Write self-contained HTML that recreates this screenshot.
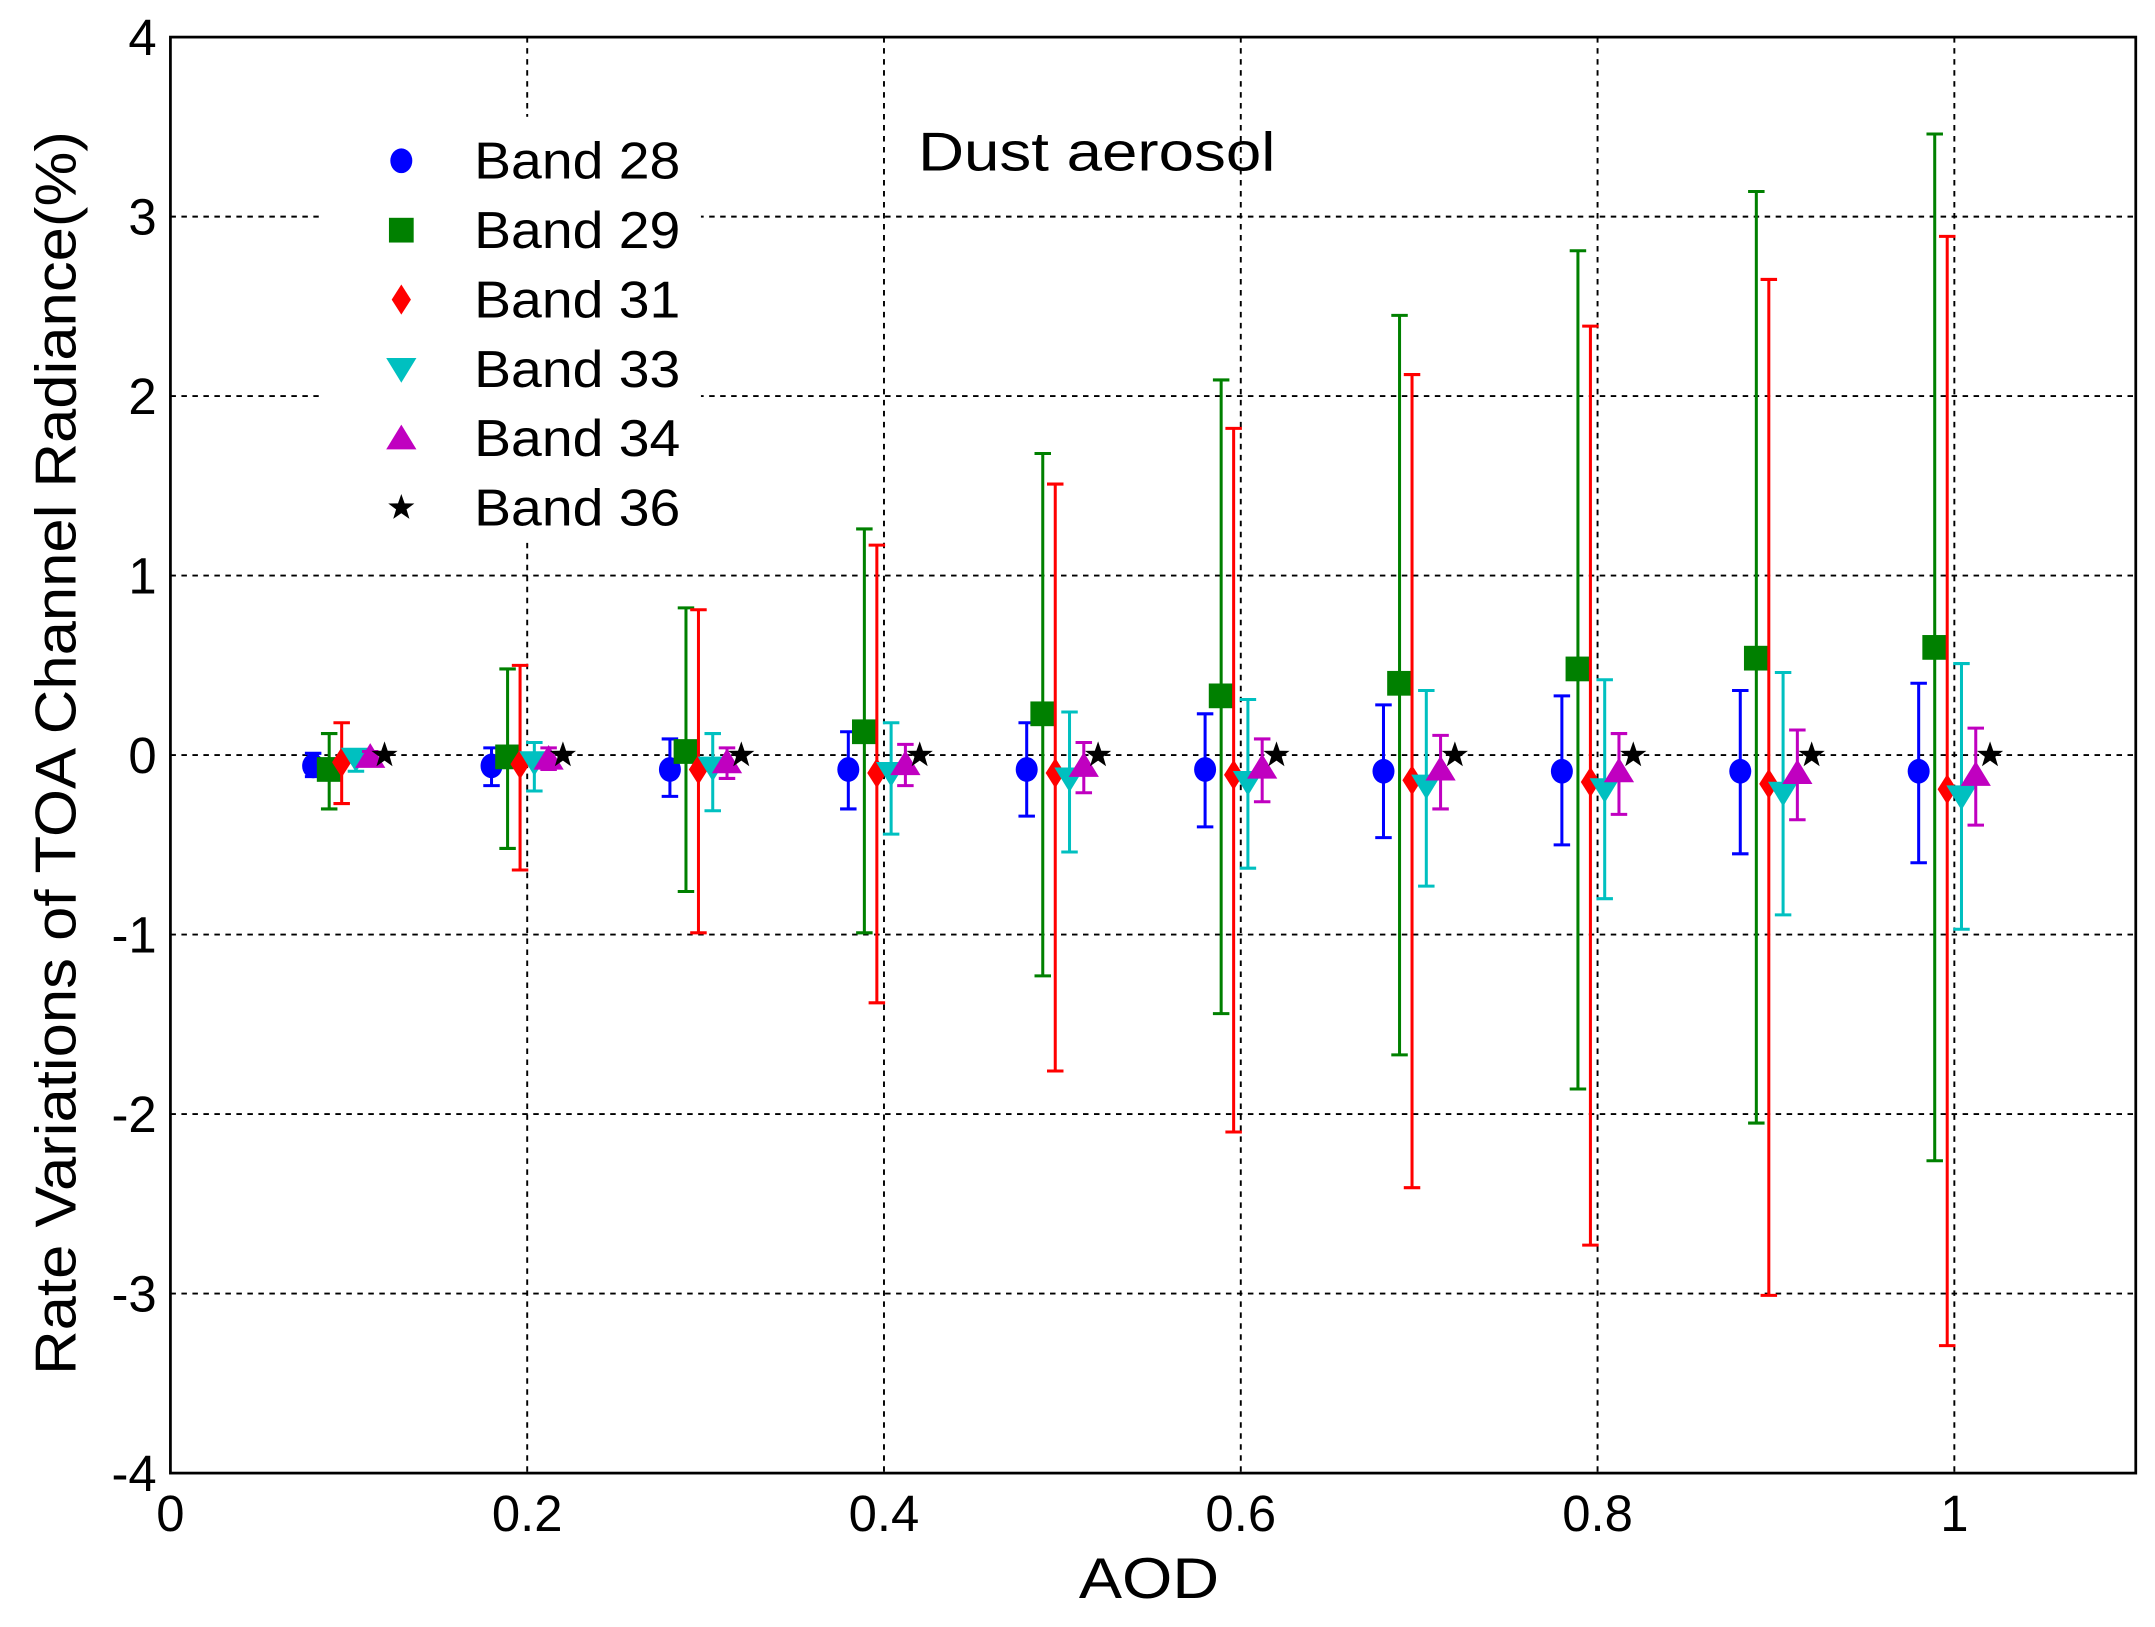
<!DOCTYPE html>
<html><head><meta charset="utf-8"><style>
html,body{margin:0;padding:0;background:#fff;}
svg{display:block;}
text{font-family:"Liberation Sans",Arial,sans-serif;fill:#000;}
</style></head><body>
<svg id="chart" width="2155" height="1627" viewBox="0 0 1568 1184" preserveAspectRatio="none" xmlns="http://www.w3.org/2000/svg">
<rect x="0" y="0" width="1568" height="1184" fill="#fff"/>
<g id="grid"></g>
<g id="legend-bg"><rect x="232" y="85" width="278" height="310" fill="#fff"/></g>
<g id="series"></g>
<rect x="124" y="27" width="1430" height="1045" fill="none" stroke="#000" stroke-width="2"/>
<g id="ticks"></g>
<text x="836" y="1163" font-size="42" text-anchor="middle" textLength="102" lengthAdjust="spacingAndGlyphs">AOD</text>
<text transform="translate(55,548) rotate(-90)" font-size="42" text-anchor="middle" textLength="905" lengthAdjust="spacingAndGlyphs">Rate Variations of TOA Channel Radiance(%)</text>
<text x="668" y="124" font-size="40" textLength="260" lengthAdjust="spacingAndGlyphs">Dust aerosol</text>
<g id="legend"></g>
</svg>
<script>
const aod=[0.1,0.2,0.3,0.4,0.5,0.6,0.7,0.8,0.9,1.0];
const xTicks=[0,0.2,0.4,0.6,0.8,1];
const xTickLabels=["0","0.2","0.4","0.6","0.8","1"];
const yTicks=[-4,-3,-2,-1,0,1,2,3,4];
const yTickLabels=["-4","-3","-2","-1","0","1","2","3","4"];
const bandNames=["Band 28","Band 29","Band 31","Band 33","Band 34","Band 36"];
const b28Mean=[-0.06,-0.06,-0.08,-0.08,-0.08,-0.08,-0.09,-0.09,-0.09,-0.09];
const b28Lo=[-0.12,-0.17,-0.23,-0.3,-0.34,-0.4,-0.46,-0.5,-0.55,-0.6];
const b28Hi=[0.01,0.04,0.09,0.13,0.18,0.23,0.28,0.33,0.36,0.4];
const b29Mean=[-0.08,-0.01,0.02,0.13,0.23,0.33,0.4,0.48,0.54,0.6];
const b29Lo=[-0.3,-0.52,-0.76,-0.99,-1.23,-1.44,-1.67,-1.86,-2.05,-2.26];
const b29Hi=[0.12,0.48,0.82,1.26,1.68,2.09,2.45,2.81,3.14,3.46];
const b31Mean=[-0.04,-0.05,-0.08,-0.1,-0.1,-0.11,-0.14,-0.15,-0.16,-0.19];
const b31Lo=[-0.27,-0.64,-0.99,-1.38,-1.76,-2.1,-2.41,-2.73,-3.01,-3.29];
const b31Hi=[0.18,0.5,0.81,1.17,1.51,1.82,2.12,2.39,2.65,2.89];
const b33Mean=[-0.02,-0.04,-0.07,-0.1,-0.13,-0.15,-0.17,-0.19,-0.21,-0.23];
const b33Lo=[-0.09,-0.2,-0.31,-0.44,-0.54,-0.63,-0.73,-0.8,-0.89,-0.97];
const b33Hi=[0.02,0.07,0.12,0.18,0.24,0.31,0.36,0.42,0.46,0.51];
const b34Mean=[-0.01,-0.02,-0.04,-0.05,-0.06,-0.07,-0.08,-0.09,-0.1,-0.11];
const b34Lo=[-0.04,-0.08,-0.13,-0.17,-0.21,-0.26,-0.3,-0.33,-0.36,-0.39];
const b34Hi=[0.02,0.04,0.04,0.06,0.07,0.09,0.11,0.12,0.14,0.15];
const b36Mean=[0,0,0,0,0,0,0,0,0,0];

const NS="http://www.w3.org/2000/svg";
const X=v=>124+v*1298;
const Y=v=>549.5-v*130.625;
function mk(tag,attrs,parent){const e=document.createElementNS(NS,tag);for(const k in attrs)e.setAttribute(k,attrs[k]);parent.appendChild(e);return e;}
const grid=document.getElementById('grid'),ticks=document.getElementById('ticks'),series=document.getElementById('series'),legend=document.getElementById('legend');
yTicks.forEach((t,i)=>{
  if(t>-4&&t<4){const l=mk('line',{x1:124,x2:1554,y1:Y(t),y2:Y(t),stroke:'#000','stroke-width':1.4,'stroke-dasharray':'4 4'},grid);
  
  }
  const tx=mk('text',{x:114,y:Y(t)+13,'font-size':37,'text-anchor':'end'},ticks);tx.textContent=yTickLabels[i];
  
  
});
xTicks.forEach((t,i)=>{
  if(t>0){const l=mk('line',{x1:X(t),x2:X(t),y1:27,y2:1072,stroke:'#000','stroke-width':1.4,'stroke-dasharray':'4 4'},grid);
  
  }
  const tx=mk('text',{x:X(t),y:1114,'font-size':37,'text-anchor':'middle'},ticks);tx.textContent=xTickLabels[i];
  
  
});
const bands=[
 {m:b28Mean,lo:b28Lo,hi:b28Hi,c:'#0000ff',off:-0.02,shape:'circle'},
 {m:b29Mean,lo:b29Lo,hi:b29Hi,c:'#008000',off:-0.011,shape:'square'},
 {m:b31Mean,lo:b31Lo,hi:b31Hi,c:'#ff0000',off:-0.004,shape:'diamond'},
 {m:b33Mean,lo:b33Lo,hi:b33Hi,c:'#00c0c0',off:0.004,shape:'tridown'},
 {m:b34Mean,lo:b34Lo,hi:b34Hi,c:'#c000c0',off:0.012,shape:'triup'},
 {m:b36Mean,lo:null,hi:null,c:'#000000',off:0.02,shape:'star'}];
function marker(shape,cx,cy,c,p){
  let e;
  if(shape==='circle')e=mk('ellipse',{cx:cx,cy:cy,rx:8,ry:9,fill:c},p);
  else if(shape==='square')e=mk('rect',{x:cx-9,y:cy-9,width:18,height:18,fill:c},p);
  else if(shape==='diamond')e=mk('polygon',{points:`${cx},${cy-11} ${cx+7},${cy} ${cx},${cy+11} ${cx-7},${cy}`,fill:c},p);
  else if(shape==='tridown')e=mk('polygon',{points:`${cx-11},${cy-8} ${cx+11},${cy-8} ${cx},${cy+10}`,fill:c},p);
  else if(shape==='triup')e=mk('polygon',{points:`${cx-11},${cy+8} ${cx+11},${cy+8} ${cx},${cy-10}`,fill:c},p);
  else{let pts=[];for(let k=0;k<10;k++){const r=k%2?4:10,a=-Math.PI/2+k*Math.PI/5;pts.push((cx+r*Math.cos(a)).toFixed(1)+','+(cy+r*Math.sin(a)).toFixed(1));}
   e=mk('polygon',{points:pts.join(' '),fill:c},p);}
  return e;
}
bands.forEach((b,bi)=>{
  aod.forEach((a,i)=>{
    const cx=X(a+b.off);
    if(b.lo){
      const g=mk('g',{stroke:b.c,'stroke-width':2.2},series);
      
      
      mk('line',{x1:cx,x2:cx,y1:Y(b.lo[i]),y2:Y(b.hi[i])},g);
      mk('line',{x1:cx-6,x2:cx+6,y1:Y(b.lo[i]),y2:Y(b.lo[i])},g);
      mk('line',{x1:cx-6,x2:cx+6,y1:Y(b.hi[i]),y2:Y(b.hi[i])},g);
    }
    const m=marker(b.shape,cx,Y(b.m[i]),b.c,series);
    
    
  });
  const ly=117+bi*50.5;
  const lm=marker(b.shape,292,ly,b.c,legend);
  
  
  const lt=mk('text',{x:345,y:ly+13,'font-size':38,textLength:150,lengthAdjust:'spacingAndGlyphs'},legend);lt.textContent=bandNames[bi];
  
  
});
</script>
</body></html>
